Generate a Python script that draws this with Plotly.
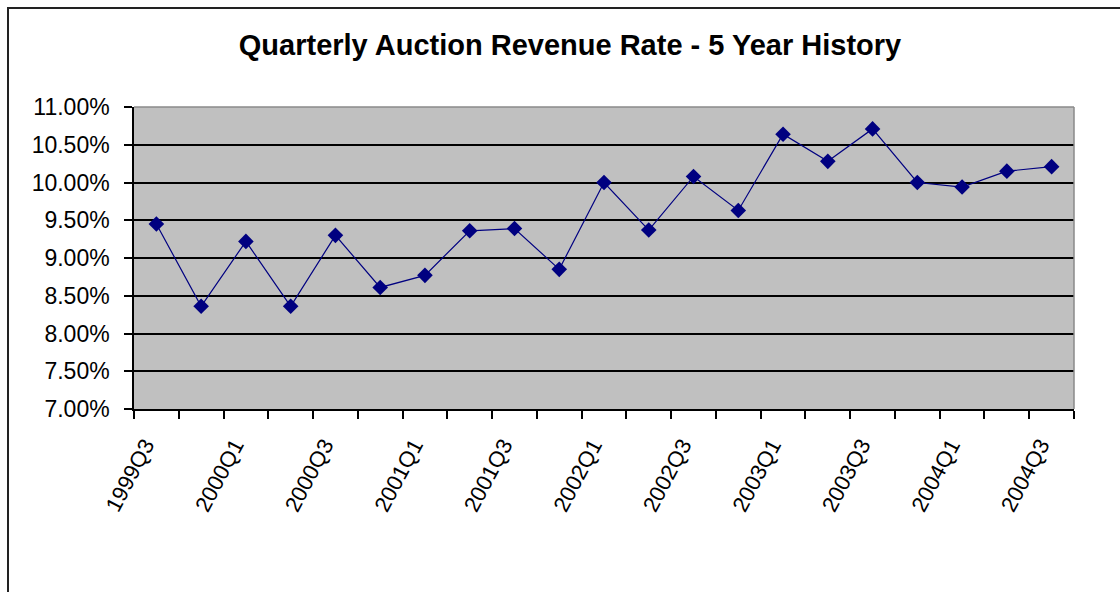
import plotly.graph_objects as go

quarters = ["1999Q3", "1999Q4", "2000Q1", "2000Q2", "2000Q3", "2000Q4",
            "2001Q1", "2001Q2", "2001Q3", "2001Q4", "2002Q1", "2002Q2",
            "2002Q3", "2002Q4", "2003Q1", "2003Q2", "2003Q3", "2003Q4",
            "2004Q1", "2004Q2", "2004Q3"]
rate_pct = [9.45, 8.36, 9.22, 8.36, 9.30, 8.61,
            8.77, 9.36, 9.39, 8.85, 10.00, 9.37,
            10.08, 9.63, 10.64, 10.28, 10.71, 10.00,
            9.94, 10.15, 10.21]
tick_labels = [q if i % 2 == 0 else "" for i, q in enumerate(quarters)]
y_ticks = [7.0, 7.5, 8.0, 8.5, 9.0, 9.5, 10.0, 10.5, 11.0]
y_tick_text = [f"{v:.2f}%" for v in y_ticks]

W, H = 1120, 592
L, R, T, B = 134, 46, 107, 183
pw, ph = W - L - R, H - T - B

def px2paper_x(px):
    return (px - L) / pw

def px2paper_y(py):
    return (H - B - py) / ph

fig = go.Figure()
fig.add_trace(go.Scatter(
    x=quarters, y=rate_pct, mode="lines+markers",
    line=dict(color="#000080", width=1.2),
    marker=dict(symbol="diamond", size=12, color="#000080"),
    showlegend=False, hoverinfo="x+y"))

fig.update_layout(
    width=W, height=H,
    margin=dict(l=L, r=R, t=T, b=B),
    paper_bgcolor="white",
    plot_bgcolor="#C0C0C0",
    font=dict(family="Liberation Sans, Arial, sans-serif", color="black"),
    title=dict(text="<b>Quarterly Auction Revenue Rate - 5 Year History</b>",
               x=570 / W, xref="container", xanchor="center",
               y=1 - 45 / H, yref="container", yanchor="middle",
               font=dict(size=29, color="black")),
    xaxis=dict(type="category", tickmode="array", tickvals=quarters,
               ticktext=tick_labels, tickson="boundaries",
               range=[-0.5, len(quarters) - 0.5],
               ticks="outside", ticklen=8, tickcolor="black", tickwidth=1.5,
               tickangle=-62, tickfont=dict(size=22),
               ticklabelstandoff=13, ticklabelshift=-11,
               showline=True, linecolor="black", linewidth=1.5,
               showgrid=False, zeroline=False),
    yaxis=dict(range=[7, 11], tickmode="array", tickvals=y_ticks,
               ticktext=y_tick_text,
               ticks="outside", ticklen=8, tickcolor="black", tickwidth=1.5,
               tickfont=dict(size=23), ticklabelstandoff=10,
               showline=True, linecolor="black", linewidth=1.5,
               showgrid=True, gridcolor="black", gridwidth=1.5,
               zeroline=False),
    shapes=[
        dict(type="line", xref="paper", yref="paper", x0=0, x1=1, y0=1, y1=1,
             line=dict(color="#8a8a8a", width=1.5), layer="above"),
        dict(type="line", xref="paper", yref="paper", x0=1, x1=1, y0=0, y1=1,
             line=dict(color="#8a8a8a", width=1.5), layer="above"),
        dict(type="rect", xref="paper", yref="paper",
             x0=px2paper_x(8), x1=px2paper_x(W + 10),
             y0=px2paper_y(H + 10), y1=px2paper_y(8),
             line=dict(color="#222222", width=2), fillcolor="rgba(0,0,0,0)",
             layer="above"),
    ],
)

fig.write_html("out.html")
